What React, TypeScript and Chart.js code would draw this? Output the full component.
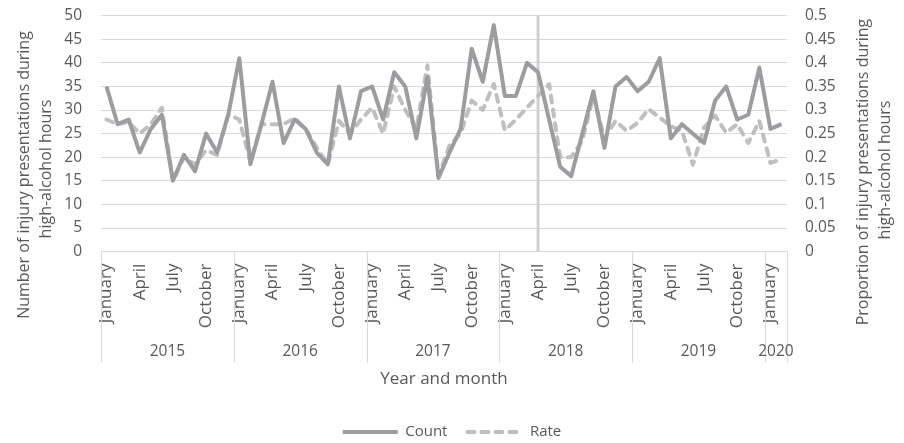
import React, { useEffect, useRef } from "react";
import { Chart, registerables } from "chart.js";

Chart.register(...registerables);

// ---- data ----
const years = [2015, 2016, 2017, 2018, 2019, 2020];
const monthsPerYear = [12, 12, 12, 12, 12, 2];
const monthNames = [
  "January", "February", "March", "April", "May", "June",
  "July", "August", "September", "October", "November", "December",
];
const shownMonths = ["January", "April", "July", "October"];
const markerMonth = "April 2018";

const countValues = [
  35, 27, 28, 21, 26, 29, 15, 20.5, 17, 25, 21, 29,
  41, 18.5, 27, 36, 23, 28, 26, 21, 18.5, 35, 24, 34,
  35, 28, 38, 35, 24, 37, 15.6, 21, 26, 43, 36, 48,
  33, 33, 40, 38, 28, 18, 16, 25, 34, 22, 35, 37,
  34, 36, 41, 24, 27, 25, 23, 32, 35, 28, 29, 39,
  26, 27,
];
const rateValues = [
  0.28, 0.27, 0.275, 0.25, 0.27, 0.305, 0.15, 0.2, 0.185, 0.215, 0.205, 0.29,
  0.28, 0.19, 0.27, 0.27, 0.27, 0.283, 0.26, 0.22, 0.185, 0.277, 0.25, 0.28,
  0.305, 0.25, 0.35, 0.3, 0.26, 0.395, 0.16, 0.225, 0.25, 0.32, 0.3, 0.355,
  0.257, 0.28, 0.305, 0.33, 0.355, 0.2, 0.2, 0.235, 0.33, 0.24, 0.277, 0.256,
  0.273, 0.302, 0.284, 0.266, 0.256, 0.184, 0.263, 0.288, 0.252, 0.27, 0.23, 0.277,
  0.188, 0.196,
];

const countAxis = { min: 0, max: 50, step: 5 };
const rateAxis = { min: 0, max: 0.5, step: 0.05 };

const leftTitle = ["Number of injury presentations during", "high-alcohol hours"];
const rightTitle = ["Proportion of injury presentations during", "high-alcohol hours"];
const xTitle = "Year and month";
const seriesNames = ["Count", "Rate"];

// ---- derived labels ----
const labels: string[] = [];
years.forEach((yr, i) => {
  for (let m = 0; m < monthsPerYear[i]; m++) labels.push(`${monthNames[m]} ${yr}`);
});

const FONT = '"Open Sans", "DejaVu Sans", sans-serif';
const TEXT = "#595959";
const GRID = "#d9d9d9";

const extrasPlugin = {
  id: "extras",
  beforeDatasetsDraw(chart: any) {
    const { ctx, chartArea } = chart;
    const x = chart.scales.x;
    const idx = labels.indexOf(markerMonth);
    if (idx < 0) return;
    const px = x.getPixelForValue(idx);
    ctx.save();
    ctx.strokeStyle = "#d0d0d4";
    ctx.lineWidth = 3;
    ctx.beginPath();
    ctx.moveTo(px, chartArea.top);
    ctx.lineTo(px, chartArea.bottom);
    ctx.stroke();
    ctx.restore();
  },
  afterDraw(chart: any) {
    const { ctx, chartArea } = chart;
    const x = chart.scales.x;
    const step = x.getPixelForValue(1) - x.getPixelForValue(0);
    ctx.save();
    ctx.strokeStyle = GRID;
    ctx.lineWidth = 1;
    ctx.fillStyle = TEXT;
    ctx.textAlign = "center";
    ctx.textBaseline = "middle";
    ctx.font = `15.5px ${FONT}`;
    const sepBottom = chartArea.bottom + 111;
    const drawSep = (px: number) => {
      const xx = Math.round(px) + 0.5;
      ctx.beginPath();
      ctx.moveTo(xx, chartArea.bottom);
      ctx.lineTo(xx, sepBottom);
      ctx.stroke();
    };
    let start = 0;
    years.forEach((yr, i) => {
      const n = monthsPerYear[i];
      const left = x.getPixelForValue(start) - step / 2;
      const right = x.getPixelForValue(start + n - 1) + step / 2;
      drawSep(left);
      if (i === years.length - 1) drawSep(right);
      ctx.fillText(String(yr), (left + right) / 2, chartArea.bottom + 100);
      start += n;
    });

    // x axis title
    ctx.font = `17px ${FONT}`;
    ctx.fillText(xTitle, (chartArea.left + chartArea.right) / 2, chartArea.bottom + 128);

    // y titles (both read bottom-to-top)
    ctx.font = `16px ${FONT}`;
    const drawRot = (text: string, cx: number, cy: number) => {
      ctx.save();
      ctx.translate(cx, cy);
      ctx.rotate(-Math.PI / 2);
      ctx.fillText(text, 0, 0);
      ctx.restore();
    };
    drawRot(leftTitle[0], 24, 175);
    drawRot(leftTitle[1], 46, 169);
    drawRot(rightTitle[0], 863, 172);
    drawRot(rightTitle[1], 885, 170);
    ctx.restore();
  },
};

const noVerticalPadding = (width: number) => (scale: any) => {
  scale.width = width;
  scale.paddingTop = 0;
  scale.paddingBottom = 0;
};

export default function App() {
  const ref = useRef<HTMLCanvasElement | null>(null);
  useEffect(() => {
    if (!ref.current) return;
    const chart = new Chart(ref.current, {
      type: "line",
      data: {
        labels,
        datasets: [
          {
            label: seriesNames[0],
            data: countValues,
            borderColor: "#9d9da1",
            backgroundColor: "#9d9da1",
            borderWidth: 4,
            pointRadius: 0,
            tension: 0,
            yAxisID: "y",
            borderJoinStyle: "round",
          },
          {
            label: seriesNames[1],
            data: rateValues,
            borderColor: "#bfbfc1",
            backgroundColor: "#bfbfc1",
            borderWidth: 4,
            borderDash: [7, 7],
            borderCapStyle: "round",
            borderJoinStyle: "round",
            pointRadius: 0,
            tension: 0,
            yAxisID: "y1",
          },
        ],
      },
      options: {
        responsive: false,
        animation: false,
        devicePixelRatio: 1,
        layout: { padding: { top: 15.7, left: 0, right: 0, bottom: -6.5 } },
        plugins: {
          tooltip: { enabled: false },
          legend: {
            position: "bottom",
            labels: {
              usePointStyle: true,
              pointStyle: "line",
              pointStyleWidth: 55,
              boxWidth: 55,
              padding: 20,
              color: TEXT,
              font: { family: FONT, size: 15 },
              generateLabels: (chart: any) => {
                const items = (Chart as any).defaults.plugins.legend.labels.generateLabels(chart);
                items.forEach((it: any) => {
                  const ds = chart.data.datasets[it.datasetIndex];
                  it.lineDash = ds.borderDash || [];
                  it.lineCap = ds.borderCapStyle || "butt";
                  it.lineWidth = ds.borderWidth;
                  it.strokeStyle = ds.borderColor;
                  it.fillStyle = ds.borderColor;
                });
                return items;
              },
            },
          },
        },
        scales: {
          x: {
            type: "category",
            offset: true,
            grid: { display: false, drawTicks: false },
            border: { display: true, color: GRID, width: 1 },
            ticks: {
              autoSkip: false,
              minRotation: 90,
              maxRotation: 90,
              padding: 12,
              color: TEXT,
              font: { family: FONT, size: 17 },
              callback: (_v: any, index: number) => {
                const name = labels[index].split(" ")[0];
                return shownMonths.includes(name) ? name : "";
              },
            },
            afterFit: (scale: any) => {
              scale.height = 152.9;
            },
          },
          y: {
            position: "left",
            min: countAxis.min,
            max: countAxis.max,
            grid: { color: GRID, lineWidth: 1, drawTicks: false },
            border: { display: false },
            ticks: {
              stepSize: countAxis.step,
              padding: 19,
              color: TEXT,
              font: { family: FONT, size: 15.5 },
            },
            afterFit: noVerticalPadding(101),
          },
          y1: {
            position: "right",
            min: rateAxis.min,
            max: rateAxis.max,
            grid: { display: false, drawTicks: false },
            border: { display: false },
            ticks: {
              stepSize: rateAxis.step,
              padding: 18,
              color: TEXT,
              font: { family: FONT, size: 15.5 },
              callback: (v: any) => String(Number(Number(v).toFixed(2))),
            },
            afterFit: noVerticalPadding(117),
          },
        },
      },
      plugins: [extrasPlugin],
    } as any);
    return () => chart.destroy();
  }, []);
  return (
    <div style={{ position: "absolute", left: 0, top: 0, width: 904, height: 443 }}>
      <canvas ref={ref} width={904} height={443} style={{ display: "block" }} />
    </div>
  );
}
